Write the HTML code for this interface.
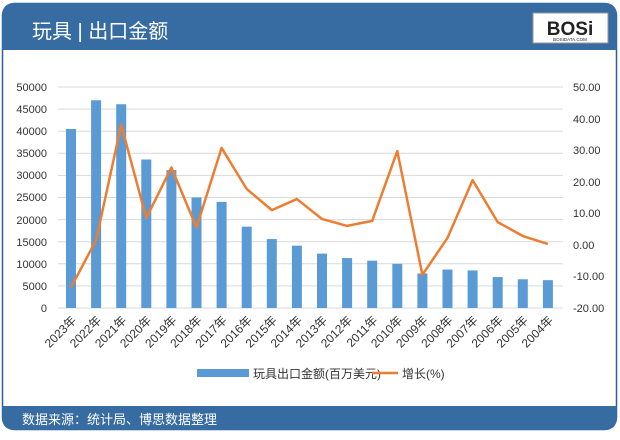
<!DOCTYPE html>
<html><head><meta charset="utf-8"><style>
body{margin:0;background:#fff;width:620px;height:435px;overflow:hidden;font-family:"Liberation Sans","Noto Sans CJK SC",sans-serif}
</style></head><body>
<svg width="620" height="435" xmlns="http://www.w3.org/2000/svg" font-family="Liberation Sans, Noto Sans CJK SC, sans-serif">
<rect x="2.5" y="3.5" width="614" height="426" rx="12" fill="#fff" stroke="#2d5f93" stroke-width="1.5"/>
<path d="M2,50 V16 Q2,3 15,3 H604 Q617,3 617,16 V50 Z" fill="#376ca2"/>
<path d="M2,406 H617 V417 Q617,430 604,430 H15 Q2,430 2,417 Z" fill="#376ca2"/>
<text x="32" y="38" font-size="20" fill="#fff">玩具 | 出口金额</text>
<rect x="533" y="13" width="75" height="30" fill="#fff" stroke="#999"/>
<text x="570" y="35" font-size="19" font-weight="bold" text-anchor="middle" fill="#222">BOSi</text>
<text x="570" y="41" font-size="4.5" text-anchor="middle" fill="#222">BOSIDATA.COM</text>
<text x="22" y="424" font-size="13" fill="#fff">数据来源：统计局、博思数据整理</text>
<g stroke="#d9d9d9" stroke-width="1">
<line x1="58" x2="563" y1="87" y2="87"/><line x1="58" x2="563" y1="109.1" y2="109.1"/><line x1="58" x2="563" y1="131.2" y2="131.2"/><line x1="58" x2="563" y1="153.3" y2="153.3"/><line x1="58" x2="563" y1="175.4" y2="175.4"/><line x1="58" x2="563" y1="197.5" y2="197.5"/><line x1="58" x2="563" y1="219.6" y2="219.6"/><line x1="58" x2="563" y1="241.7" y2="241.7"/><line x1="58" x2="563" y1="263.8" y2="263.8"/><line x1="58" x2="563" y1="285.9" y2="285.9"/><line x1="58" x2="563" y1="308" y2="308"/>
</g>
<g font-size="11" fill="#333" text-anchor="end">
<text x="47" y="91">50000</text><text x="47" y="113">45000</text><text x="47" y="135">40000</text><text x="47" y="157">35000</text><text x="47" y="179">30000</text><text x="47" y="201">25000</text><text x="47" y="224">20000</text><text x="47" y="246">15000</text><text x="47" y="268">10000</text><text x="47" y="290">5000</text><text x="47" y="312">0</text>
</g>
<g font-size="11" fill="#333" text-anchor="start">
<text x="573" y="91">50.00</text><text x="573" y="123">40.00</text><text x="573" y="154">30.00</text><text x="573" y="186">20.00</text><text x="573" y="217">10.00</text><text x="573" y="249">0.00</text><text x="573" y="280">-10.00</text><text x="573" y="312">-20.00</text>
</g>
<g fill="#5b9bd5" id="bars"></g>
<g id="xl" font-size="12" fill="#333"></g>
<polyline id="ln" fill="none" stroke="#ed7d31" stroke-width="2.5" stroke-linejoin="round"/>
<rect x="197" y="369" width="52" height="8" fill="#5b9bd5"/>
<text x="253" y="378" font-size="12" fill="#333">玩具出口金额(百万美元)</text>
<line x1="372" x2="398" y1="373" y2="373" stroke="#ed7d31" stroke-width="2.5"/>
<text x="402" y="378" font-size="12" fill="#333">增长(%)</text>
</svg>
<script>
var v=[40500,47000,46100,33600,31200,25000,24000,18400,15600,14100,12300,11300,10700,10000,7800,8700,8500,7000,6500,6300];
var g=[-13.5,1.5,38,8.5,24.5,5.5,30.7,17.7,11,14.5,8.2,6,7.6,29.7,-9.5,2.2,20.5,7.2,2.8,0.3];
var ns="http://www.w3.org/2000/svg",b=document.getElementById('bars'),xl=document.getElementById('xl'),pts=[];
for(var i=0;i<20;i++){var cx=71+i*25.1;var h=v[i]/50000*221;
var r=document.createElementNS(ns,'rect');r.setAttribute('x',cx-5);r.setAttribute('y',308-h);r.setAttribute('width',10);r.setAttribute('height',h);b.appendChild(r);
var t=document.createElementNS(ns,'text');t.setAttribute('text-anchor','end');t.setAttribute('transform','translate('+(cx+6)+',321) rotate(-45)');t.textContent=(2023-i)+'年';xl.appendChild(t);
pts.push(cx+','+(87+(50-g[i])*3.157));}
document.getElementById('ln').setAttribute('points',pts.join(' '));
</script>
</body></html>
